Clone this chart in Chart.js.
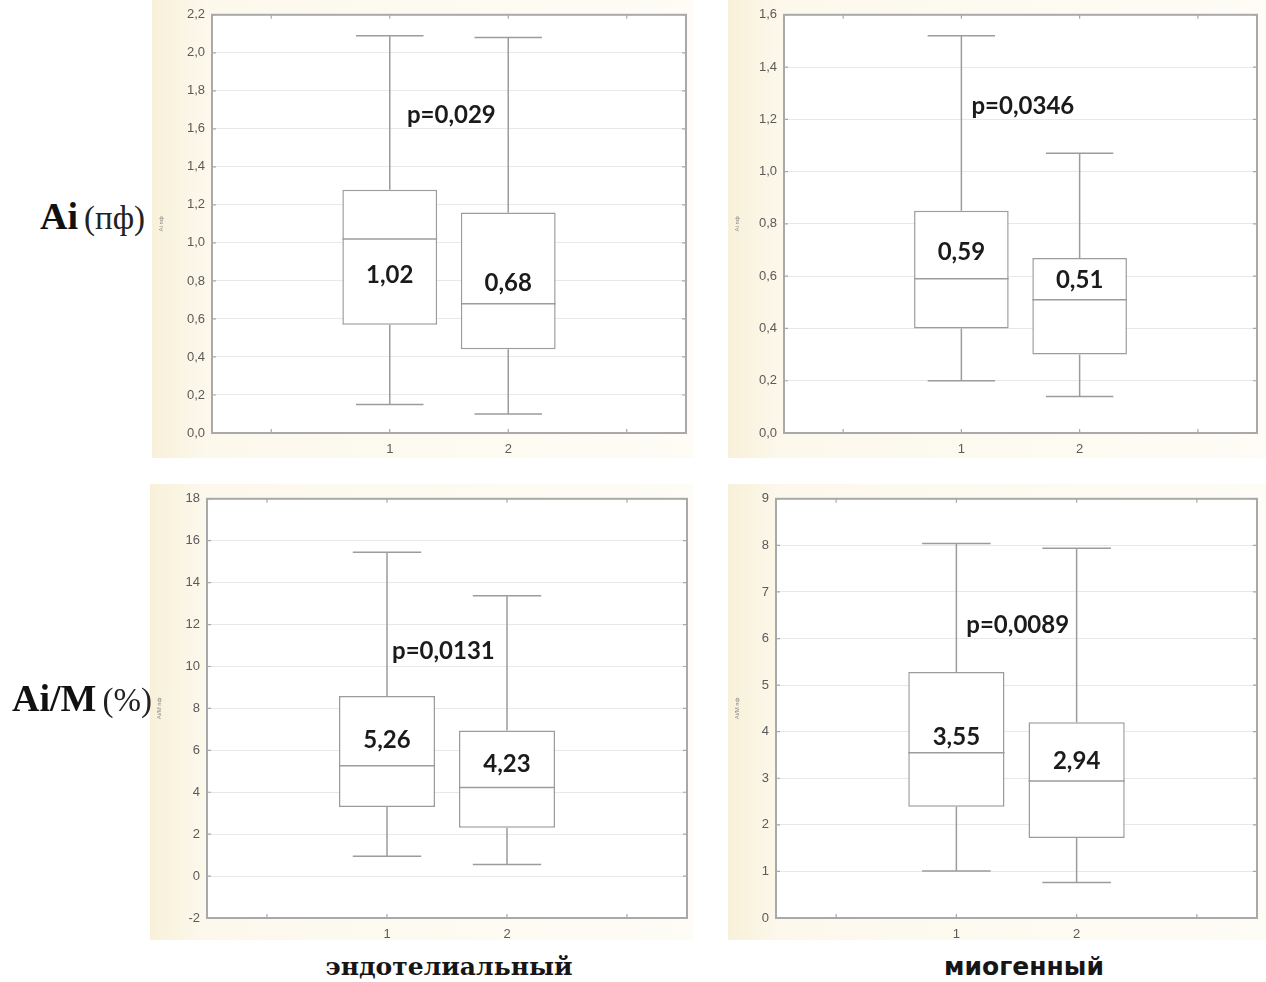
<!DOCTYPE html>
<html>
<head>
<meta charset="utf-8">
<script src="https://cdn.jsdelivr.net/npm/chart.js@4.4.1/dist/chart.umd.min.js"></script>
<style>
  html, body { margin: 0; padding: 0; background: #fff; }
  body { width: 1266px; height: 982px; position: relative; overflow: hidden; }
  canvas.panel { position: absolute; }
  .rowlab { position: absolute; font-family: "Liberation Serif", "DejaVu Serif", serif; color: #111; white-space: nowrap; line-height: 1; }
  .rowlab b { font-size: 38px; font-weight: bold; }
  .rowlab span { font-size: 33px; color: #222; margin-left: 6px; }
  .collab { position: absolute; font-weight: bold; font-size: 25px; color: #161616; transform: translateX(-50%); white-space: nowrap; line-height: 1; }
</style>
</head>
<body>
<canvas id="aiEndo" class="panel" width="542" height="458" style="left:152px;top:0px"></canvas>
<canvas id="aiMyo" class="panel" width="538" height="458" style="left:728px;top:0px"></canvas>
<canvas id="aimEndo" class="panel" width="544" height="456" style="left:150px;top:484px"></canvas>
<canvas id="aimMyo" class="panel" width="538" height="456" style="left:728px;top:484px"></canvas>

<div class="rowlab" style="left:40px;top:197px"><b>Ai</b><span>(пф)</span></div>
<div class="rowlab" style="left:12px;top:679px"><b>Ai/M</b><span>(%)</span></div>
<div class="collab" style="left:449px;top:954px;font-family:'DejaVu Serif',serif">эндотелиальный</div>
<div class="collab" style="left:1024px;top:954px;font-family:'DejaVu Sans',sans-serif">миогенный</div>

<script>
// Groups on the x axis
const groups = [1, 2];

// Ai, endothelial range: whiskers, quartiles, medians
const aiEndoLow    = [0.15, 0.10];
const aiEndoQ1     = [0.57, 0.44];
const aiEndoMedian = [1.02, 0.68];
const aiEndoQ3     = [1.28, 1.16];
const aiEndoHigh   = [2.09, 2.08];

// Ai, myogenic range
const aiMyoLow    = [0.20, 0.14];
const aiMyoQ1     = [0.40, 0.30];
const aiMyoMedian = [0.59, 0.51];
const aiMyoQ3     = [0.85, 0.67];
const aiMyoHigh   = [1.52, 1.07];

// Ai/M, endothelial range
const aimEndoLow    = [0.95, 0.55];
const aimEndoQ1     = [3.30, 2.31];
const aimEndoMedian = [5.26, 4.23];
const aimEndoQ3     = [8.59, 6.94];
const aimEndoHigh   = [15.45, 13.37];

// Ai/M, myogenic range
const aimMyoLow    = [1.01, 0.76];
const aimMyoQ1     = [2.39, 1.72];
const aimMyoMedian = [3.55, 2.94];
const aimMyoQ3     = [5.28, 4.20];
const aimMyoHigh   = [8.04, 7.94];

// Significance of the difference between groups
const pValues = ['p=0,029', 'p=0,0346', 'p=0,0131', 'p=0,0089'];

const LINE = '#9c9c9c';
const FRAME = '#a9a9a9';

function comma(v, d) { return v.toFixed(d).replace('.', ','); }

// Whiskers, medians, frame and value labels for a box plot
const boxPlugin = {
  id: 'boxplot',
  beforeDraw(chart) {
    const { ctx, chartArea: a, width, height } = chart;
    ctx.save();
    const g = ctx.createLinearGradient(0, 0, width, 0);
    g.addColorStop(0, '#f8f0d9');
    g.addColorStop(0.1, '#fcf8ec');
    g.addColorStop(1, '#fefcf6');
    ctx.fillStyle = g;
    ctx.fillRect(0, 0, width, height);
    ctx.fillStyle = '#ffffff';
    ctx.fillRect(a.left, a.top, a.right - a.left, a.bottom - a.top);
    ctx.restore();
  },
  beforeDatasetsDraw(chart) {
    const o = chart.options.plugins.boxplot;
    const { ctx } = chart;
    const xs = chart.scales.x, ys = chart.scales.y;
    const capHalf = xs.getPixelForValue(o.capWidth / 2) - xs.getPixelForValue(0);
    ctx.save();
    ctx.strokeStyle = LINE;
    ctx.lineWidth = 1.5;
    groups.forEach((gv, i) => {
      const x = xs.getPixelForValue(gv);
      const yHi = ys.getPixelForValue(o.high[i]);
      const yLo = ys.getPixelForValue(o.low[i]);
      const yQ3 = ys.getPixelForValue(o.q3[i]);
      const yQ1 = ys.getPixelForValue(o.q1[i]);
      ctx.beginPath();
      ctx.moveTo(x, yHi); ctx.lineTo(x, yQ3);
      ctx.moveTo(x, yQ1); ctx.lineTo(x, yLo);
      ctx.moveTo(x - capHalf, yHi); ctx.lineTo(x + capHalf, yHi);
      ctx.moveTo(x - capHalf, yLo); ctx.lineTo(x + capHalf, yLo);
      ctx.stroke();
    });
    ctx.restore();
  },
  afterDatasetsDraw(chart) {
    const o = chart.options.plugins.boxplot;
    const { ctx, chartArea: a } = chart;
    const xs = chart.scales.x, ys = chart.scales.y;
    const bars = chart.getDatasetMeta(0).data;
    ctx.save();
    // median lines
    ctx.strokeStyle = LINE;
    ctx.lineWidth = 1.5;
    bars.forEach((bar, i) => {
      const y = ys.getPixelForValue(o.median[i]);
      ctx.beginPath();
      ctx.moveTo(bar.x - bar.width / 2, y);
      ctx.lineTo(bar.x + bar.width / 2, y);
      ctx.stroke();
    });
    // plot frame with small inward ticks
    ctx.strokeStyle = FRAME;
    ctx.lineWidth = 2;
    ctx.strokeRect(a.left, a.top, a.right - a.left, a.bottom - a.top);
    ctx.lineWidth = 1.2;
    ctx.beginPath();
    [0, 1, 2, 3].forEach(v => {
      const x = xs.getPixelForValue(v);
      ctx.moveTo(x, a.bottom); ctx.lineTo(x, a.bottom - 4);
      ctx.moveTo(x, a.top); ctx.lineTo(x, a.top + 4);
    });
    ys.ticks.forEach(t => {
      const y = ys.getPixelForValue(t.value);
      ctx.moveTo(a.left, y); ctx.lineTo(a.left + 4, y);
      ctx.moveTo(a.right, y); ctx.lineTo(a.right - 4, y);
    });
    ctx.stroke();
    // value labels
    ctx.fillStyle = '#1b1b1b';
    ctx.font = 'bold 24px Lato, "Open Sans", sans-serif';
    ctx.textAlign = 'center';
    ctx.textBaseline = 'middle';
    groups.forEach((gv, i) => {
      ctx.fillText(comma(o.median[i], 2), xs.getPixelForValue(gv), ys.getPixelForValue(o.labelY[i]));
    });
    ctx.fillText(o.pText, xs.getPixelForValue(o.pAt[0]), ys.getPixelForValue(o.pAt[1]));
    ctx.restore();
  }
};

function makePanel(id, cfg) {
  const canvas = document.getElementById(id);
  const W = canvas.width, H = canvas.height;
  new Chart(canvas, {
    type: 'bar',
    data: {
      datasets: [{
        data: groups.map((g, i) => ({ x: g, y: [cfg.q1[i], cfg.q3[i]] })),
        backgroundColor: '#ffffff',
        borderColor: LINE,
        borderWidth: 1.5,
        borderSkipped: false,
        barPercentage: 0.8,
        categoryPercentage: 1.0
      }]
    },
    options: {
      responsive: false,
      animation: false,
      devicePixelRatio: 1,
      layout: { padding: { top: cfg.area.top, right: W - cfg.area.right, left: 0, bottom: 0 } },
      plugins: {
        legend: { display: false },
        tooltip: { enabled: false },
        boxplot: {
          low: cfg.low, q1: cfg.q1, median: cfg.median, q3: cfg.q3, high: cfg.high,
          capWidth: 0.57, labelY: cfg.labelY, pText: cfg.pText, pAt: cfg.pAt
        }
      },
      scales: {
        x: {
          type: 'linear',
          offset: false,
          min: -0.5, max: 3.5,
          afterBuildTicks: s => { s.ticks = [0, 1, 2, 3].map(v => ({ value: v })); },
          afterFit: s => { s.height = H - cfg.area.bottom; },
          grid: { display: false, drawTicks: false },
          border: { display: false },
          ticks: {
            autoSkip: false, maxRotation: 0, padding: 9,
            color: '#5a5a5a', font: { family: '"Liberation Sans", Arial, sans-serif', size: 13 },
            callback: v => (v === 1 || v === 2) ? String(v) : ''
          }
        },
        y: {
          min: cfg.yMin, max: cfg.yMax,
          afterBuildTicks: s => {
            const t = [];
            for (let v = cfg.yMin; v <= cfg.yMax + 1e-9; v += cfg.yStep) t.push({ value: Math.round(v * 1000) / 1000 });
            s.ticks = t;
          },
          afterFit: s => { s.width = cfg.area.left; },
          grid: { color: '#e8e8e8', lineWidth: 1, drawTicks: false },
          border: { display: false },
          title: {
            display: true, text: cfg.yTitle, color: '#8a8a8a',
            font: { family: '"Liberation Sans", Arial, sans-serif', size: 6 }, padding: { top: 6, bottom: 0 }
          },
          ticks: {
            padding: 7, color: '#5a5a5a',
            font: { family: '"Liberation Sans", Arial, sans-serif', size: 13 },
            callback: v => comma(v, cfg.yDec)
          }
        }
      }
    },
    plugins: [boxPlugin]
  });
}

makePanel('aiEndo', {
  low: aiEndoLow, q1: aiEndoQ1, median: aiEndoMedian, q3: aiEndoQ3, high: aiEndoHigh,
  yMin: 0, yMax: 2.2, yStep: 0.2, yDec: 1, yTitle: 'Ai пф',
  area: { left: 60, right: 534, top: 11, bottom: 433 },
  labelY: [0.83, 0.79], pText: pValues[0], pAt: [1.52, 1.67]
});
makePanel('aiMyo', {
  low: aiMyoLow, q1: aiMyoQ1, median: aiMyoMedian, q3: aiMyoQ3, high: aiMyoHigh,
  yMin: 0, yMax: 1.6, yStep: 0.2, yDec: 1, yTitle: 'Ai пф',
  area: { left: 56, right: 529, top: 13, bottom: 433 },
  labelY: [0.69, 0.585], pText: pValues[1], pAt: [1.52, 1.25]
});
makePanel('aimEndo', {
  low: aimEndoLow, q1: aimEndoQ1, median: aimEndoMedian, q3: aimEndoQ3, high: aimEndoHigh,
  yMin: -2, yMax: 18, yStep: 2, yDec: 0, yTitle: 'Ai/M пф',
  area: { left: 57, right: 537, top: 11, bottom: 434 },
  labelY: [6.46, 5.33], pText: pValues[2], pAt: [1.47, 10.72]
});
makePanel('aimMyo', {
  low: aimMyoLow, q1: aimMyoQ1, median: aimMyoMedian, q3: aimMyoQ3, high: aimMyoHigh,
  yMin: 0, yMax: 9, yStep: 1, yDec: 0, yTitle: 'Ai/M пф',
  area: { left: 48, right: 529, top: 10, bottom: 434 },
  labelY: [3.88, 3.37], pText: pValues[3], pAt: [1.51, 6.29]
});
</script>
</body>
</html>
